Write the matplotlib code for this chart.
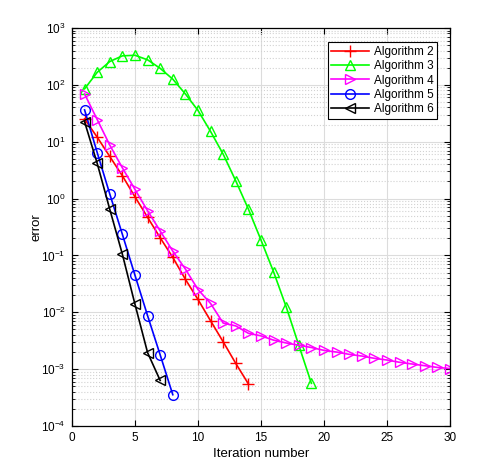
import numpy as np
from matplotlib import pyplot as plt
from matplotlib.ticker import LogLocator, NullFormatter

plt.rcParams['font.family'] = ['Liberation Sans', 'DejaVu Sans']

# log10(error), one value per iteration
it2 = list(range(1, 15))
log2 = [1.40, 1.08, 0.74, 0.40, 0.03, -0.33, -0.69, -1.035, -1.42, -1.775,
        -2.15, -2.52, -2.90, -3.26]

it3 = list(range(1, 20))
log3 = [1.93, 2.22, 2.41, 2.51, 2.52, 2.44, 2.29, 2.10, 1.84, 1.55,
        1.18, 0.78, 0.31, -0.185, -0.73, -1.29, -1.905, -2.58, -3.25]

it4 = list(range(1, 31))
log4 = [1.84, 1.39, 0.94, 0.54, 0.16, -0.215, -0.57, -0.925, -1.24, -1.60,
        -1.845, -2.19, -2.24, -2.37, -2.415, -2.49, -2.54, -2.58, -2.62, -2.67,
        -2.70, -2.74, -2.77, -2.81, -2.84, -2.88, -2.91, -2.94, -2.97, -2.99]

it5 = list(range(1, 9))
log5 = [1.56, 0.81, 0.08, -0.63, -1.35, -2.06, -2.75, -3.45]

it6 = list(range(1, 8))
log6 = [1.35, 0.62, -0.19, -0.98, -1.86, -2.71, -3.20]

series = [
    ('Algorithm 2', it2, log2, '#ff0000', '+'),
    ('Algorithm 3', it3, log3, '#00ff00', '^'),
    ('Algorithm 4', it4, log4, '#ff00ff', '>'),
    ('Algorithm 5', it5, log5, '#0000ff', 'o'),
    ('Algorithm 6', it6, log6, '#000000', '<'),
]

fig = plt.figure(figsize=(4.91, 4.72), dpi=100)
ax = fig.add_axes([0.1466, 0.0975, 0.7699, 0.8432])

for nombre, x, ly, color, marca in series:
    y = 10.0 ** np.array(ly)
    ms = 8 if marca == '+' else 7
    ax.plot(x, y, color=color, marker=marca, markersize=ms, markerfacecolor='none',
            markeredgecolor=color, markeredgewidth=1.0, linewidth=1.2, label=nombre)

ax.set_yscale('log')
ax.set_xlim(0, 30)
ax.set_ylim(1e-4, 1e3)
ax.set_xticks([0, 5, 10, 15, 20, 25, 30])
ax.yaxis.set_major_locator(LogLocator(base=10, numticks=20))
ax.yaxis.set_minor_locator(LogLocator(base=10, subs=np.arange(2, 10), numticks=20))
ax.yaxis.set_minor_formatter(NullFormatter())

ax.grid(True, which='major', color='#dcdcdc', linestyle='-', linewidth=0.8)
ax.grid(True, which='minor', axis='y', color='#d2d2d2', linestyle=':', linewidth=0.8)
ax.set_axisbelow(True)

ax.tick_params(which='both', direction='in', top=True, right=True, labelsize=8.5)
ax.tick_params(which='major', length=4, pad=4.5)
ax.tick_params(which='minor', length=2)
for s in ax.spines.values():
    s.set_linewidth(0.9)

ax.set_xlabel('Iteration number', fontsize=9.5, labelpad=3)
ax.set_ylabel('error', fontsize=9.5, labelpad=-1)

leg = ax.legend(loc='upper right', bbox_to_anchor=(0.972, 0.97), fontsize=8.5,
                fancybox=False, edgecolor='k', framealpha=1, handlelength=3.2,
                borderpad=0.3, labelspacing=0.2, handletextpad=0.4,
                borderaxespad=0.2)
leg.get_frame().set_linewidth(0.8)

fig.savefig('out.png', dpi=100)
